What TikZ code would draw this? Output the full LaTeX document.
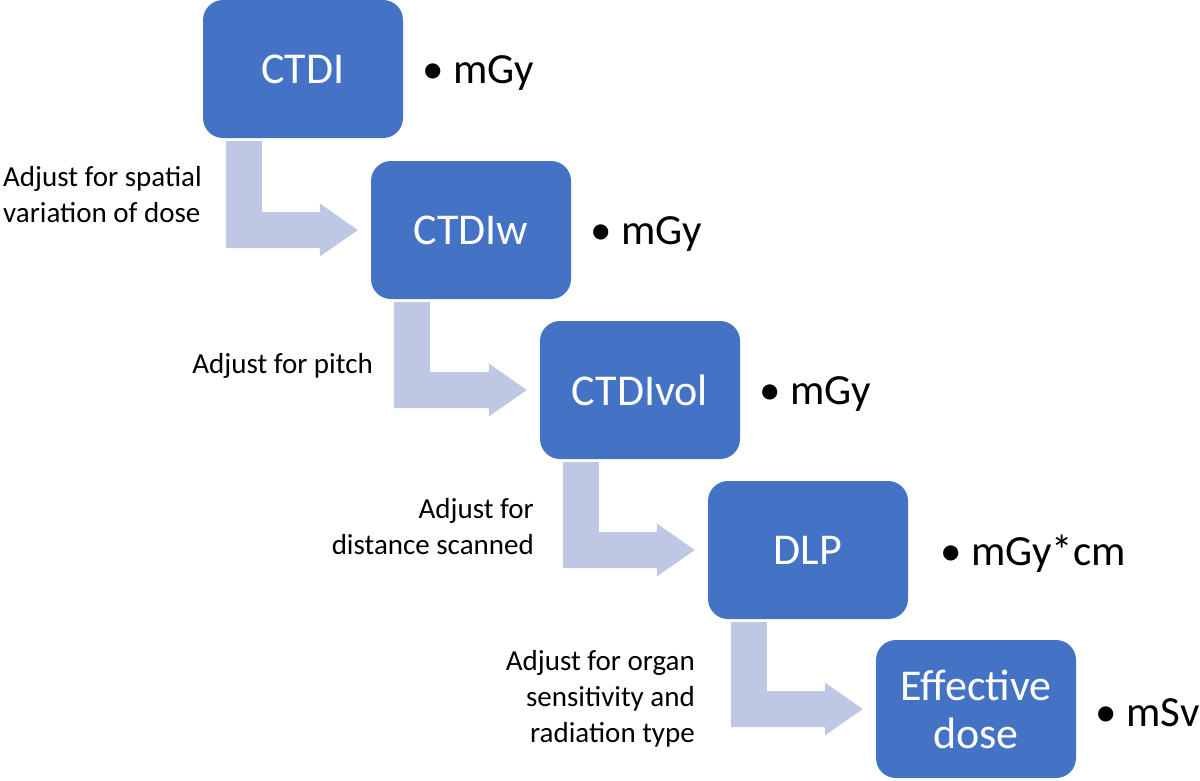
\documentclass[tikz,border=0pt]{standalone}
\usepackage{fontspec}
\setmainfont{Carlito}
\usetikzlibrary{calc,positioning}
\definecolor{boxblue}{HTML}{4472C4}
\definecolor{arrowblue}{RGB}{190,200,228}

\begin{document}
\begin{tikzpicture}[x=1pt,y=-1pt]
  \tikzset{dosebox/.style = {shape=rectangle,rounded corners=20pt,fill=boxblue,text=white,minimum width=200pt,minimum height=138pt,inner sep=2pt,align=center,font=\fontsize{44}{48}\selectfont}}
  \tikzset{unit/.style = {inner sep=0pt,font=\fontsize{43}{48}\selectfont}}
  \tikzset{note/.style = {inner sep=0pt,font=\fontsize{29}{36}\selectfont}}
  \tikzset{flowarrow/.style = {fill=arrowblue}}
  \useasboundingbox (0,0) rectangle (1200,780);
	\node[dosebox] (ctdi) at (303,69) {CTDI};
	\node[dosebox] (ctdiw) at (471,230) {CTDIw};
	\node[dosebox] (ctdivol) at (640,390) {CTDIvol};
	\node[dosebox] (dlp) at (808,550) {DLP};
	\node[dosebox] (eff) at (976,709) {Effective\\dose};

	\node[unit,right=19pt of ctdi,yshift=-4pt] (mgy1) {• mGy};
	\node[unit,right=19pt of ctdiw,yshift=-4pt] (mgy2) {• mGy};
	\node[unit,right=19pt of ctdivol,yshift=-4pt] (mgy3) {• mGy};
	\node[unit,right=32pt of dlp,yshift=-4pt] (mgycm) {• mGy*cm};
	\node[unit,right=19pt of eff,yshift=-4pt] (msv) {• mSv};

	\node[note,anchor=north west,align=left] (adj1) at (3,166) {Adjust for spatial\\variation of dose};
	\node[note,anchor=base east] (adj2) at (373,373) {Adjust for pitch};
	\node[note,anchor=north east,align=right] (adj3) at (534,498) {Adjust for\\distance scanned};
	\node[note,anchor=north east,align=right] (adj4) at (695,650) {Adjust for organ\\sensitivity and\\radiation type};

    \foreach \from/\to in {ctdi/ctdiw,ctdiw/ctdivol,ctdivol/dlp,dlp/eff}
    \fill[flowarrow] let \p1=(\from.south west), \p2=(\to.west) in
      (\x1+23pt,\y1-3pt) -- (\x1+59pt,\y1-3pt) -- (\x1+59pt,\y2+18pt) -- (\x2-51pt,\y2+18pt)
      -- (\x2-51pt,\y2+26.5pt) -- (\x2-13pt,\y2) -- (\x2-51pt,\y2-26.5pt) -- (\x2-51pt,\y2-18pt)
      -- (\x1+23pt,\y2-18pt) -- cycle;
\end{tikzpicture}
\end{document}
